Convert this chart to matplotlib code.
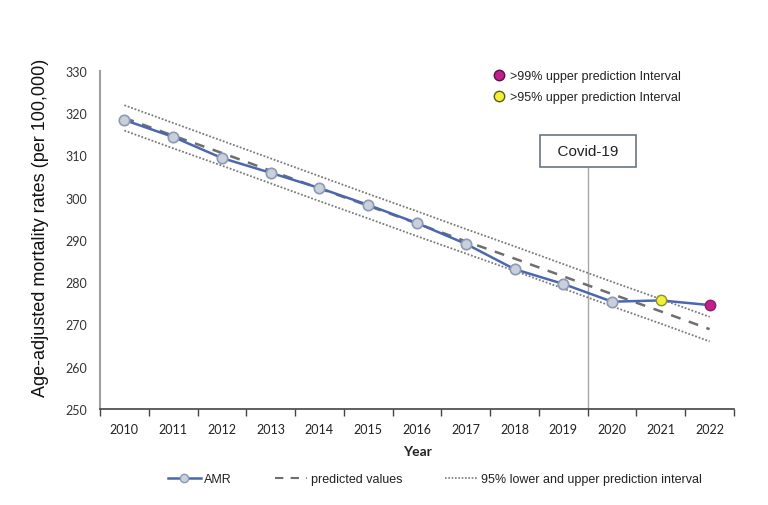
import matplotlib
matplotlib.use("Agg")
import matplotlib.pyplot as plt
from matplotlib.lines import Line2D
import numpy as np

years = ["2010", "2011", "2012", "2013", "2014", "2015", "2016",
         "2017", "2018", "2019", "2020", "2021", "2022"]
amr = [318.4, 314.4, 309.4, 305.9, 302.3, 298.3, 294.0,
       289.1, 283.1, 279.6, 275.4, 275.7, 274.6]
predicted = [318.9, 314.7, 310.6, 306.4, 302.2, 298.1, 293.9,
             289.7, 285.6, 281.4, 277.2, 273.1, 268.9]
upper95 = [321.9, 317.7, 313.5, 309.3, 305.1, 300.9, 296.8,
           292.6, 288.5, 284.3, 280.1, 276.0, 271.8]
lower95 = [315.9, 311.7, 307.6, 303.4, 299.2, 295.1, 290.9,
           286.8, 282.7, 278.5, 274.3, 270.2, 266.0]
flags = ["", "", "", "", "", "", "", "", "", "", "", "95", "99"]
covid_label = "Covid-19"
covid_pos = 9.5
yticks = [250, 260, 270, 280, 290, 300, 310, 320, 330]

BLUE = "#4a67b0"
MFILL = "#c9cfdb"
MEDGE = "#8b9ab5"
YELLOW = "#f2f032"
MAGENTA = "#c21f8c"

fig = plt.figure(figsize=(7.68, 5.06), dpi=100)
ax = fig.add_axes([100/768, 96/506, 634/768, 338/506])

x = np.arange(len(years))

ax.plot(x, upper95, linestyle=(0, (1, 1)), color="#7a7a7a", lw=1.3)
ax.plot(x, lower95, linestyle=(0, (1, 1)), color="#7a7a7a", lw=1.3)
ax.plot(x, predicted, linestyle=(0, (4, 3.5)), color="#6e6e6e", lw=1.8)
ax.plot(x, amr, color=BLUE, lw=1.8, zorder=3)

normal = [i for i, f in enumerate(flags) if f == ""]
ax.plot(x[normal], [amr[i] for i in normal], linestyle="none", marker="o",
        ms=7.5, mfc=MFILL, mec=MEDGE, mew=1.2, zorder=4)
for i, f in enumerate(flags):
    if f == "95":
        ax.plot(x[i], amr[i], "o", ms=7.5, mfc=YELLOW, mec="#8a8a40", mew=1.0, zorder=5)
    elif f == "99":
        ax.plot(x[i], amr[i], "o", ms=7.5, mfc=MAGENTA, mec="#8a2060", mew=1.0, zorder=5)

# Covid marker
ax.vlines(covid_pos, 250, 307.3, color="#a8a8a8", lw=1.0, zorder=1)
ax.text(covid_pos, 311.0, "  " + covid_label + "  ", ha="center", va="center",
        fontsize=11, family="Liberation Sans", color="#222222",
        bbox=dict(boxstyle="square,pad=0.6", fc="white", ec="#6a7585", lw=1.2))

ax.set_xlim(-0.5, len(years) - 0.5)
ax.set_ylim(250, 330)
ax.set_yticks(yticks)
ax.set_yticklabels([str(v) for v in yticks], family="Lato", fontsize=9, color="#333333")
ax.set_xticks(x)
ax.set_xticklabels(years, family="Lato", fontsize=9, color="#222222")
ax.set_xticks(np.arange(-0.5, len(years), 1.0), minor=True)
ax.tick_params(axis="x", which="major", length=0, pad=10)
ax.tick_params(axis="x", which="minor", length=5, width=1.0, color="#444444", direction="out")
ax.tick_params(axis="y", length=0, pad=9)

for s in ["top", "right"]:
    ax.spines[s].set_visible(False)
ax.spines["left"].set_color("#a0a0a0")
ax.spines["left"].set_linewidth(1.5)
ax.spines["bottom"].set_color("#444444")
ax.spines["bottom"].set_linewidth(1.2)

ax.set_xlabel("Year", family="Lato", fontweight="bold", fontsize=10, color="#222222", labelpad=7)
ax.set_ylabel("Age-adjusted mortality rates (per 100,000)", family="Liberation Sans",
              fontsize=13, color="#111111")
ax.yaxis.set_label_coords(-0.08, 0.54)

# top-right legend
h99 = Line2D([], [], linestyle="none", marker="o", ms=7.5, mfc=MAGENTA, mec="#5a1040")
h95 = Line2D([], [], linestyle="none", marker="o", ms=7.5, mfc=YELLOW, mec="#5a5a20")
leg1 = fig.legend([h99, h95], [">99% upper prediction Interval", ">95% upper prediction Interval"],
                  loc="upper left", bbox_to_anchor=(494/768, 1 - 71/506), frameon=False,
                  prop={"family": "Liberation Sans", "size": 9}, handlelength=0.8,
                  handletextpad=0.45, labelspacing=0.75, borderaxespad=0, borderpad=0)
for t in leg1.get_texts():
    t.set_color("#222222")

# bottom legend
hA = Line2D([], [], color=BLUE, lw=1.8, marker="o", ms=6, mfc=MFILL, mec=MEDGE)
hP = Line2D([], [], color="#6e6e6e", lw=1.5, linestyle=(0, (4, 3.5)))
hI = Line2D([], [], color="#7a7a7a", lw=1.2, linestyle=(0, (1, 1)))
leg2 = fig.legend([hA, hP, hI], ["AMR", "predicted values", "95% lower and upper prediction interval"],
                  loc="center", bbox_to_anchor=(435/768, 1 - 480/506), ncol=3, frameon=False,
                  prop={"family": "Liberation Sans", "size": 9}, handlelength=2.6,
                  handletextpad=0.3, columnspacing=3.4, borderpad=0)
for t in leg2.get_texts():
    t.set_color("#222222")

fig.savefig("out.png", dpi=100, facecolor="white")
